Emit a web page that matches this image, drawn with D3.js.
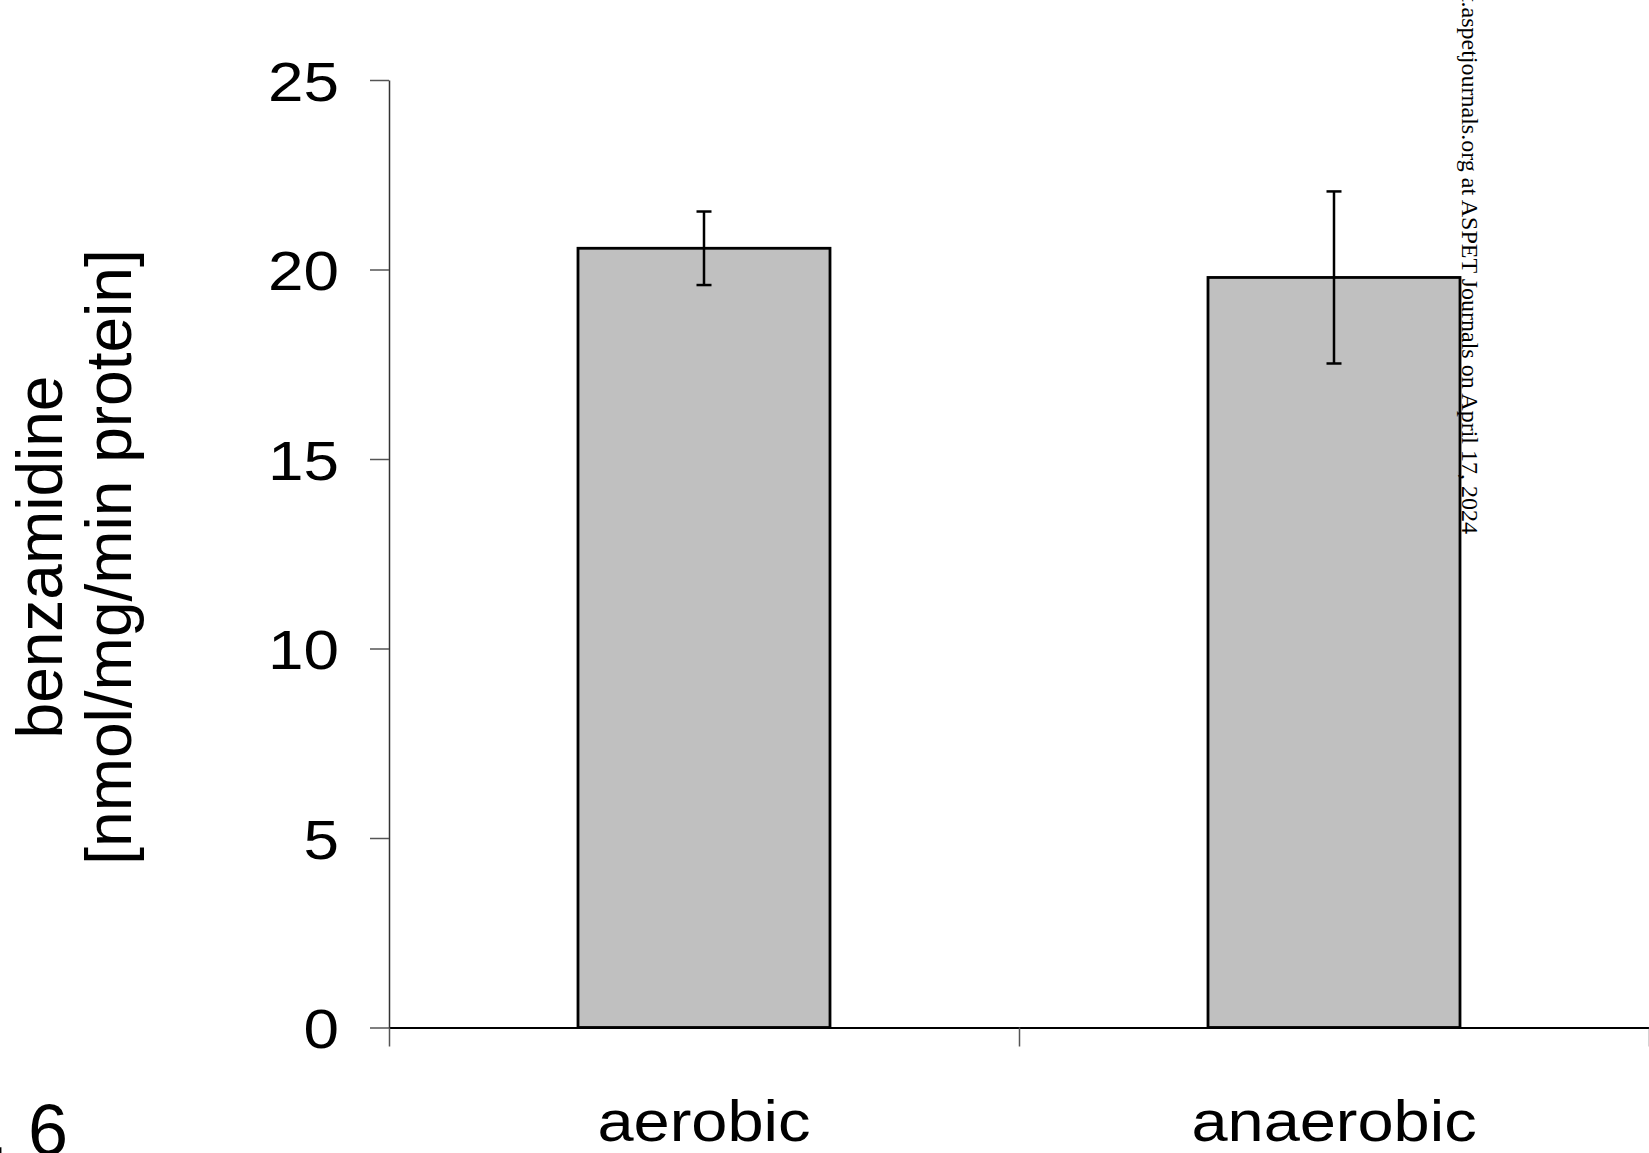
<!DOCTYPE html>
<html>
<head>
<meta charset="utf-8">
<script src="https://cdn.jsdelivr.net/npm/d3@7/dist/d3.min.js"></script>
<style>
  html, body { margin: 0; padding: 0; background: #fff; }
  svg { display: block; }
  text { fill: #000; }
</style>
</head>
<body>
<svg id="chart" width="1649" height="1153"></svg>
<script>
const categories = ["aerobic", "anaerobic"];
const values = [20.56, 19.79];
const errors = [0.97, 2.27];
const yTicks = [0, 5, 10, 15, 20, 25];
const yLabelLines = ["benzamidine", "[nmol/mg/min protein]"];
const figLabel = "Fig. 6";
const watermark = "Downloaded from jpet.aspetjournals.org at ASPET Journals on April 17, 2024";

(function () {
const SANS = "'Liberation Sans', Arial, sans-serif";
const SERIF = "'Liberation Serif', 'Times New Roman', serif";
const svg = d3.select("#chart");
const plotLeft = 389, plotRight = 1649, plotTop = 80, plotBottom = 1027.5;

const x = d3.scaleBand().domain(categories).range([plotLeft, plotRight]).paddingInner(0.6).paddingOuter(0.3);
const xTickScale = d3.scaleLinear().domain([0, categories.length]).range([plotLeft, plotRight]);
const y = d3.scaleLinear().domain([0, 25]).range([plotBottom, plotTop]);

// bars
svg.append("g").selectAll("rect").data(categories).join("rect")
  .attr("x", d => x(d))
  .attr("y", (d, i) => y(values[i]))
  .attr("width", x.bandwidth())
  .attr("height", (d, i) => y(0) - y(values[i]))
  .attr("fill", "#c0c0c0")
  .attr("stroke", "#000")
  .attr("stroke-width", 2.8);

// error bars
const eg = svg.append("g").attr("stroke", "#000").attr("stroke-width", 2.5);
categories.forEach((c, i) => {
  const cx = x(c) + x.bandwidth() / 2;
  const y1 = y(values[i] + errors[i]), y2 = y(values[i] - errors[i]);
  eg.append("line").attr("x1", cx).attr("x2", cx).attr("y1", y1).attr("y2", y2);
  eg.append("line").attr("x1", cx - 7.5).attr("x2", cx + 7.5).attr("y1", y1).attr("y2", y1);
  eg.append("line").attr("x1", cx - 7.5).attr("x2", cx + 7.5).attr("y1", y2).attr("y2", y2);
});

// y axis
const yAxis = d3.axisLeft(y).tickValues(yTicks).tickSize(19).tickPadding(30).tickSizeOuter(0);
const yg = svg.append("g").attr("transform", `translate(${plotLeft},0)`).call(yAxis);
yg.select(".domain").attr("stroke", "#333").attr("stroke-width", 1.5);
yg.selectAll(".tick line").attr("stroke", "#555").attr("stroke-width", 1.5);
yg.selectAll(".tick text")
  .style("font-family", SANS)
  .attr("font-size", 56)
  .attr("x", 0)
  .attr("dy", "0.36em")
  .attr("transform", "translate(-50,0) scale(1.14,1)");

// x axis
const xAxis = d3.axisBottom(xTickScale).tickValues(d3.range(categories.length + 1)).tickSize(19).tickFormat("").tickSizeOuter(0);
const xg = svg.append("g").attr("transform", `translate(0,${plotBottom})`).call(xAxis);
xg.select(".domain").attr("stroke", "#000").attr("stroke-width", 2);
xg.selectAll(".tick line").attr("stroke", "#555").attr("stroke-width", 1.5);

// category labels
svg.append("g").selectAll("text").data(categories).join("text")
  .attr("transform", d => `translate(${x(d) + x.bandwidth() / 2},1141) scale(1.12,1)`)
  .attr("text-anchor", "middle")
  .style("font-family", SANS)
  .attr("font-size", 58)
  .text(d => d);

// y label
const yl = svg.append("text")
  .attr("transform", "translate(62,557) rotate(-90)")
  .attr("text-anchor", "middle")
  .style("font-family", SANS)
  .attr("font-size", 64);
yl.selectAll("tspan").data(yLabelLines).join("tspan")
  .attr("x", 0)
  .attr("dy", (d, i) => i === 0 ? 0 : 69)
  .text(d => d);

// figure label
svg.append("text").attr("x", 68).attr("y", 1155).attr("text-anchor", "end")
  .style("font-family", SANS).attr("font-size", 72).text(figLabel);

// watermark
svg.append("text")
  .attr("transform", "translate(1462,534) rotate(90)")
  .attr("text-anchor", "end")
  .style("font-family", SERIF)
  .attr("font-size", 24)
  .text(watermark);
})();
</script>
</body>
</html>
